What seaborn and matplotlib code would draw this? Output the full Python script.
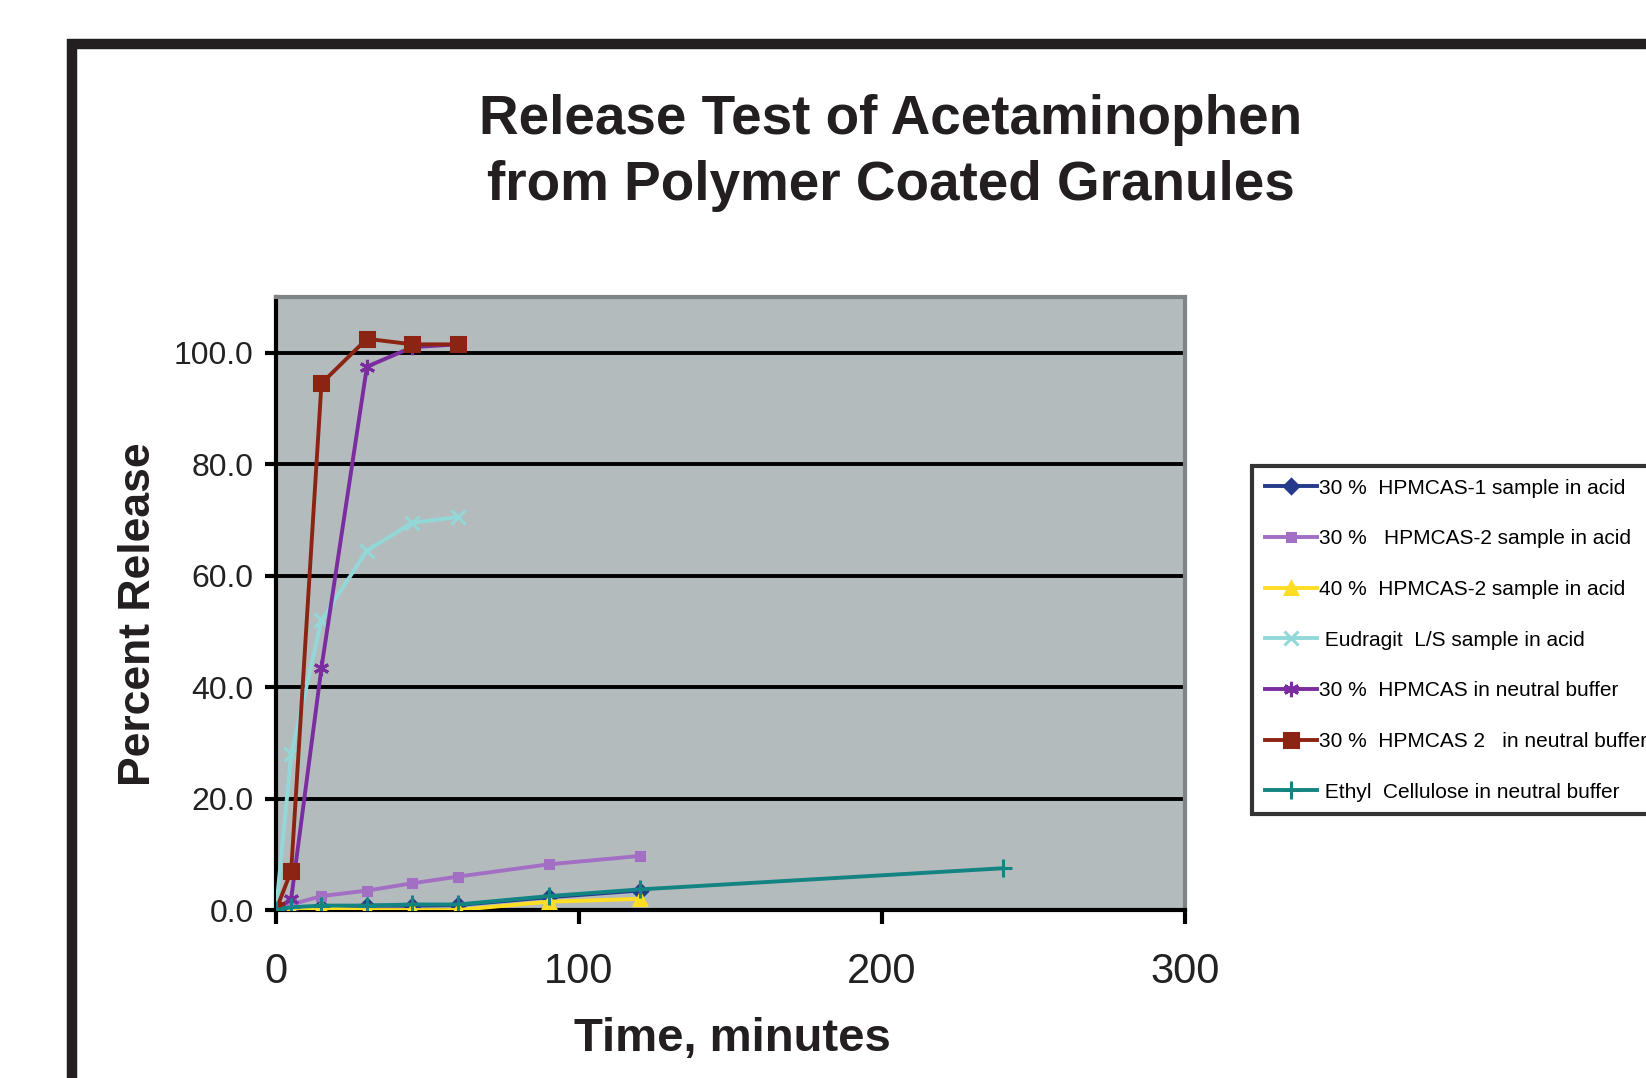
import matplotlib
matplotlib.use("Agg")
import matplotlib.pyplot as plt
import matplotlib.patches as mpatches
from matplotlib import font_manager
import numpy as np
import pandas as pd
import seaborn as sns

# values (percent released vs minutes)
t_acid = [0, 5, 15, 30, 45, 60, 90, 120]
hpmcas1_acid = [0, 0.3, 0.5, 0.8, 0.8, 0.9, 2.3, 3.5]
hpmcas2_acid = [0, 1.0, 2.5, 3.5, 4.8, 6.0, 8.2, 9.7]
hpmcas2_40_acid = [-0.5, 0, 0.3, 0, 0, 0, 1.5, 2.0]
t_short = [0, 5, 15, 30, 45, 60]
eudragit_acid = [0, 28, 52, 64.5, 69.5, 70.5]
hpmcas_neutral = [0, 2, 43.5, 97.5, 101, 101.5]
hpmcas2_neutral = [0, 7, 94.5, 102.5, 101.5, 101.5]
t_ethyl = [0, 5, 15, 30, 45, 60, 90, 120, 240]
ethyl_neutral = [0, 0.5, 0.8, 0.8, 1.0, 1.0, 2.5, 3.7, 7.5]

labels = ["30 %  HPMCAS-1 sample in acid",
          "30 %   HPMCAS-2 sample in acid",
          "40 %  HPMCAS-2 sample in acid",
          " Eudragit  L/S sample in acid",
          "30 %  HPMCAS in neutral buffer",
          "30 %  HPMCAS 2   in neutral buffer",
          " Ethyl  Cellulose in neutral buffer"]
colors = ["#263a8c", "#a36fc4", "#ffdd22", "#93d8d8", "#7b2c9e", "#8c2414", "#138482"]
markers = ["D", "s", "^", "x", (6, 2, 0), "s", "+"]
msizes = [7, 6, 9, 10, 11, 10, 13]

series = [(t_acid, hpmcas1_acid), (t_acid, hpmcas2_acid), (t_acid, hpmcas2_40_acid),
          (t_short, eudragit_acid), (t_short, hpmcas_neutral), (t_short, hpmcas2_neutral),
          (t_ethyl, ethyl_neutral)]


def pick(names):
    avail = {f.name for f in font_manager.fontManager.ttflist}
    for n in names:
        if n in avail:
            return n
    return "DejaVu Sans"


sans = pick(["Liberation Sans", "Arial", "DejaVu Sans"])
narrow = pick(["Liberation Sans Narrow", "Liberation Sans"])

fig = plt.figure(figsize=(16.46, 10.78), dpi=100)
ax = fig.add_axes([0.1677, 0.1558, 0.5522, 0.5687])
ax.set_facecolor("#b4bbbd")

# heavy outer frame running off the right and bottom edges
frame = mpatches.Rectangle((72 / 1646, -0.2), 2.0, 1.2 - 43.5 / 1078, transform=fig.transFigure,
                           fill=False, edgecolor="#231f20", linewidth=7.5, clip_on=False)
fig.patches.append(frame)

for y in [20, 40, 60, 80, 100]:
    ax.axhline(y, color="black", linewidth=2.8, zorder=1)

handles = []
for (tx, vals), lab, c, m, ms in zip(series, labels, colors, markers, msizes):
    df = pd.DataFrame({"t": tx, "v": vals})
    sns.lineplot(data=df, x="t", y="v", ax=ax, color=c, linewidth=2.8, marker=m,
                 markersize=ms, markeredgecolor=c, markeredgewidth=2.2, zorder=3)
    handles.append(ax.lines[-1])

ax.set_xlim(0, 300)
ax.set_ylim(0, 110)
ax.set_xticks([0, 100, 200, 300])
ax.set_yticks([0, 20, 40, 60, 80, 100])
ax.set_yticklabels([f"{v:.1f}" for v in [0, 20, 40, 60, 80, 100]])
ax.tick_params(axis="x", direction="out", length=10, width=3, pad=20, labelsize=30,
               color="black")
ax.tick_params(axis="y", direction="out", length=8, width=3, pad=8, labelsize=23,
               color="black")
for lab in ax.get_xticklabels() + ax.get_yticklabels():
    lab.set_family(sans)
    lab.set_color("#222222")
ax.set_xlabel("")
ax.set_ylabel("")

for s in ["left", "bottom"]:
    ax.spines[s].set_color("black")
    ax.spines[s].set_linewidth(3)
for s in ["top", "right"]:
    ax.spines[s].set_color("#7f8486")
    ax.spines[s].set_linewidth(3)

fig.text(0.541, 0.858, "Release Test of Acetaminophen\nfrom Polymer Coated Granules",
         ha="center", va="center", fontsize=39.5, fontweight="bold", family=sans,
         color="#231f20", linespacing=1.36)
fig.text(0.0844, 0.4304, "Percent Release", rotation=90, ha="center", va="center",
         fontsize=32, fontweight="bold", family=sans, color="#231f20")
fig.text(0.445, 0.036, "Time, minutes", ha="center", va="center",
         fontsize=34, fontweight="bold", family=narrow, color="#231f20")

leg = fig.legend(handles, labels, loc="upper left", bbox_to_anchor=(1252 / 1646, 1 - 466 / 1078),
                 bbox_transform=fig.transFigure, frameon=True, fancybox=False,
                 fontsize=15, handlelength=2.5, handletextpad=0.1, labelspacing=1.52,
                 borderpad=0.6, borderaxespad=0)
leg.get_frame().set_edgecolor("black")
leg.get_frame().set_linewidth(3)
for txt in leg.get_texts():
    txt.set_family(sans)

fig.savefig("out.png", dpi=100)
